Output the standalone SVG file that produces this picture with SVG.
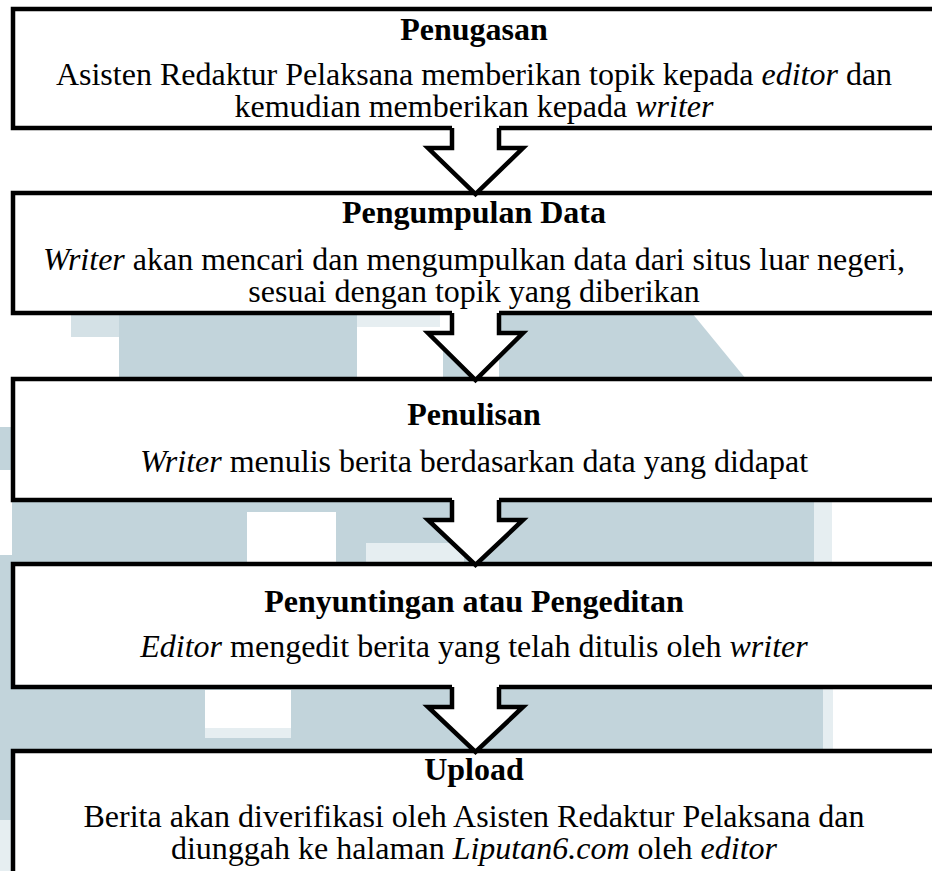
<svg xmlns="http://www.w3.org/2000/svg" width="932" height="871" viewBox="0 0 932 871">
<style>
.box{fill:#fff;stroke:#000;stroke-width:4.5;stroke-linejoin:miter}
.wm{fill:#c2d4db}
.wml{fill:#d4e1e6}
.wmf{fill:#e6eef1}
.ah{fill:#fff;stroke:none}
.al{fill:none;stroke:#000;stroke-width:4.5;stroke-linejoin:miter;stroke-linecap:butt}
text{font-family:"Liberation Serif","Times New Roman",serif;font-size:32px;fill:#000;text-anchor:middle}
.t{font-weight:bold}
.i{font-style:italic}
</style>
<rect x="0" y="0" width="932" height="871" fill="#fff"/>
<g id="watermark">
<rect class="wm" x="119" y="313" width="238" height="66"/>
<rect class="wml" x="71" y="313" width="48" height="24"/>
<rect class="wmf" x="357" y="313" width="83" height="14"/>
<rect class="wm" x="443" y="350" width="40" height="29"/>
<polygon class="wm" points="499,313 692,313 746,379 499,379"/>
<rect class="wm" x="12" y="500" width="235" height="64"/>
<rect class="wm" x="247" y="500" width="89" height="12"/>
<rect class="wm" x="336" y="500" width="163" height="43"/>
<rect class="wm" x="336" y="543" width="30" height="21"/>
<rect class="wmf" x="366" y="543" width="98" height="21"/>
<rect class="wm" x="464" y="543" width="35" height="21"/>
<rect class="wm" x="499" y="500" width="315" height="64"/>
<rect class="wmf" x="814" y="500" width="18" height="64"/>
<rect class="wm" x="0" y="687" width="823" height="64"/>
<rect fill="#fff" x="205" y="690" width="86" height="38"/>
<rect class="wmf" x="205" y="728" width="86" height="10"/>
<rect class="wmf" x="823" y="687" width="10" height="64"/>
<rect class="wm" x="0" y="427" width="12" height="43"/>
<rect class="wm" x="0" y="555" width="12" height="265"/>
<rect class="wmf" x="0" y="820" width="12" height="51"/>
</g>
<g id="box1">
<rect class="box" x="13" y="9" width="940" height="119"/>
<text class="t" x="474" y="40">Penugasan</text>
<text x="474" y="85">Asisten Redaktur Pelaksana memberikan topik kepada <tspan class="i">editor</tspan> dan</text>
<text x="474" y="117">kemudian memberikan kepada <tspan class="i">writer</tspan></text>
</g>
<g id="box2">
<rect class="box" x="13" y="193" width="940" height="120"/>
<text class="t" x="474" y="223">Pengumpulan Data</text>
<text x="474" y="270"><tspan class="i">Writer</tspan> akan mencari dan mengumpulkan data dari situs luar negeri,</text>
<text x="474" y="302">sesuai dengan topik yang diberikan</text>
</g>
<g id="box3">
<rect class="box" x="13" y="379" width="940" height="121"/>
<text class="t" x="474" y="425">Penulisan</text>
<text x="474" y="472"><tspan class="i">Writer</tspan> menulis berita berdasarkan data yang didapat</text>
</g>
<g id="box4">
<rect class="box" x="13" y="564" width="940" height="123"/>
<text class="t" x="474" y="612">Penyuntingan atau Pengeditan</text>
<text x="474" y="657"><tspan class="i">Editor</tspan> mengedit berita yang telah ditulis oleh <tspan class="i">writer</tspan></text>
</g>
<g id="box5">
<rect class="box" x="13" y="751" width="940" height="130"/>
<text class="t" x="474" y="780">Upload</text>
<text x="474" y="827">Berita akan diverifikasi oleh Asisten Redaktur Pelaksana dan</text>
<text x="474" y="859">diunggah ke halaman <tspan class="i">Liputan6.com</tspan> oleh <tspan class="i">editor</tspan></text>
</g>
<g id="connectors">
<polygon class="ah" points="452,125 452,148 428,148 475.5,193 523,148 499,148 499,125"/>
<polyline class="al" points="452,128 452,148 428,148 475.5,194 523,148 499,148 499,128"/>
<polygon class="ah" points="452,310 452,333 428,333 475.5,379 523,333 499,333 499,310"/>
<polyline class="al" points="452,313 452,333 428,333 475.5,380 523,333 499,333 499,313"/>
<polygon class="ah" points="452,497 452,520 428,520 475.5,564 523,520 499,520 499,497"/>
<polyline class="al" points="452,500 452,520 428,520 475.5,565 523,520 499,520 499,500"/>
<polygon class="ah" points="452,684 452,707 428,707 475.5,751 523,707 499,707 499,684"/>
<polyline class="al" points="452,687 452,707 428,707 475.5,752 523,707 499,707 499,687"/>
</g>
</svg>
